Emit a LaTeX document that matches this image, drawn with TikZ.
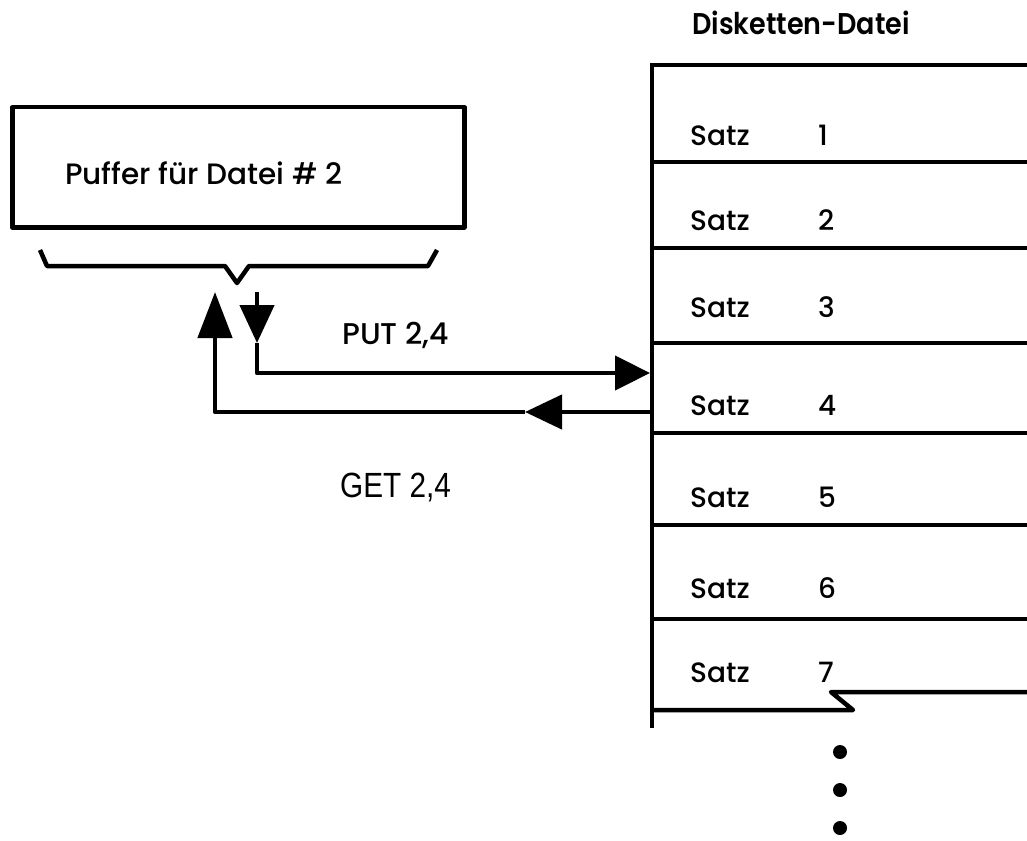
\documentclass[tikz,border=0pt]{standalone}
\usepackage{fontspec}
\setmainfont{Poppins}[UprightFont={* Medium}, BoldFont={* SemiBold}]
\newfontfamily\getfont{Liberation Sans}
\usetikzlibrary{arrows.meta}
\begin{document}
\begin{tikzpicture}[x=1pt,y=-1pt,
  ln/.style={line width=4.5pt, line join=round},
  tipA/.style={-{Triangle[length=#1,width=34pt]}},
  txt/.style={anchor=base west, inner sep=0pt, font=\fontsize{28}{30}\selectfont},
  head/.style={anchor=base west, inner sep=0pt, font=\fontsize{30}{32}\selectfont\bfseries},
  gett/.style={anchor=base west, inner sep=0pt, font=\fontsize{35}{37}\getfont},
  dot/.style={fill=black, circle, inner sep=0pt, minimum size=14pt}
]
\useasboundingbox (0,0) rectangle (1027,840);

% buffer box
\node[draw, ln, minimum width=452pt, minimum height=120pt, anchor=north west, inner sep=0pt] (puffer) at (10,105) {};
\node[txt, font=\fontsize{29.5}{31}\selectfont] (pufftxt) at (65,184) {Puffer für Datei \# 2};

% brace
\draw[ln] (40,250) -- (47,266) -- (225,266) -- (237,283) -- (249,266) -- (428,266) -- (437,250);

% disk file
\node[head] (disktitle) at (692,35) {\scalebox{0.9}[1]{Disketten-Datei}};
\draw[ln] (652,63) -- (652,728);
\foreach \y in {65,162,248,343,433,525,619} {
  \draw[ln] (652,\y) -- (1027,\y);
}
\draw[ln] (652,710) -- (853,710) -- (831,692) -- (1027,692);

\foreach \i/\y in {1/145,2/230,3/317,4/415,5/507,6/598,7/682} {
  \node[txt] (s\i) at (690,\y) {Satz};
  \node[txt] (n\i) at (818,\y) {\i};
}

\node[dot] (d1) at (840,752) {};
\node[dot] (d2) at (840,790) {};
\node[dot] (d3) at (840,828) {};

% connectors
\coordinate (putA) at (257,292);
\coordinate (putB) at (257,343);
\coordinate (putend) at (650,373);
\coordinate (getstart) at (650,412);
\coordinate (getmid) at (525,412);
\coordinate (getend) at (215,292);

\draw[ln, tipA=38pt] (putA) -- (putB);
\draw[ln, tipA=35pt] (putB) |- (putend);
\draw[ln, tipA=37pt] (getstart) -- (getmid);
\draw[ln, tipA=46pt] (getmid) -| (getend);

\node[txt, font=\fontsize{30}{32}\selectfont] (put) at (342,344) {PUT 2,4};
\node[gett] (get) at (340,497) {\scalebox{0.85}[1]{GET 2,4}};
\end{tikzpicture}
\end{document}
